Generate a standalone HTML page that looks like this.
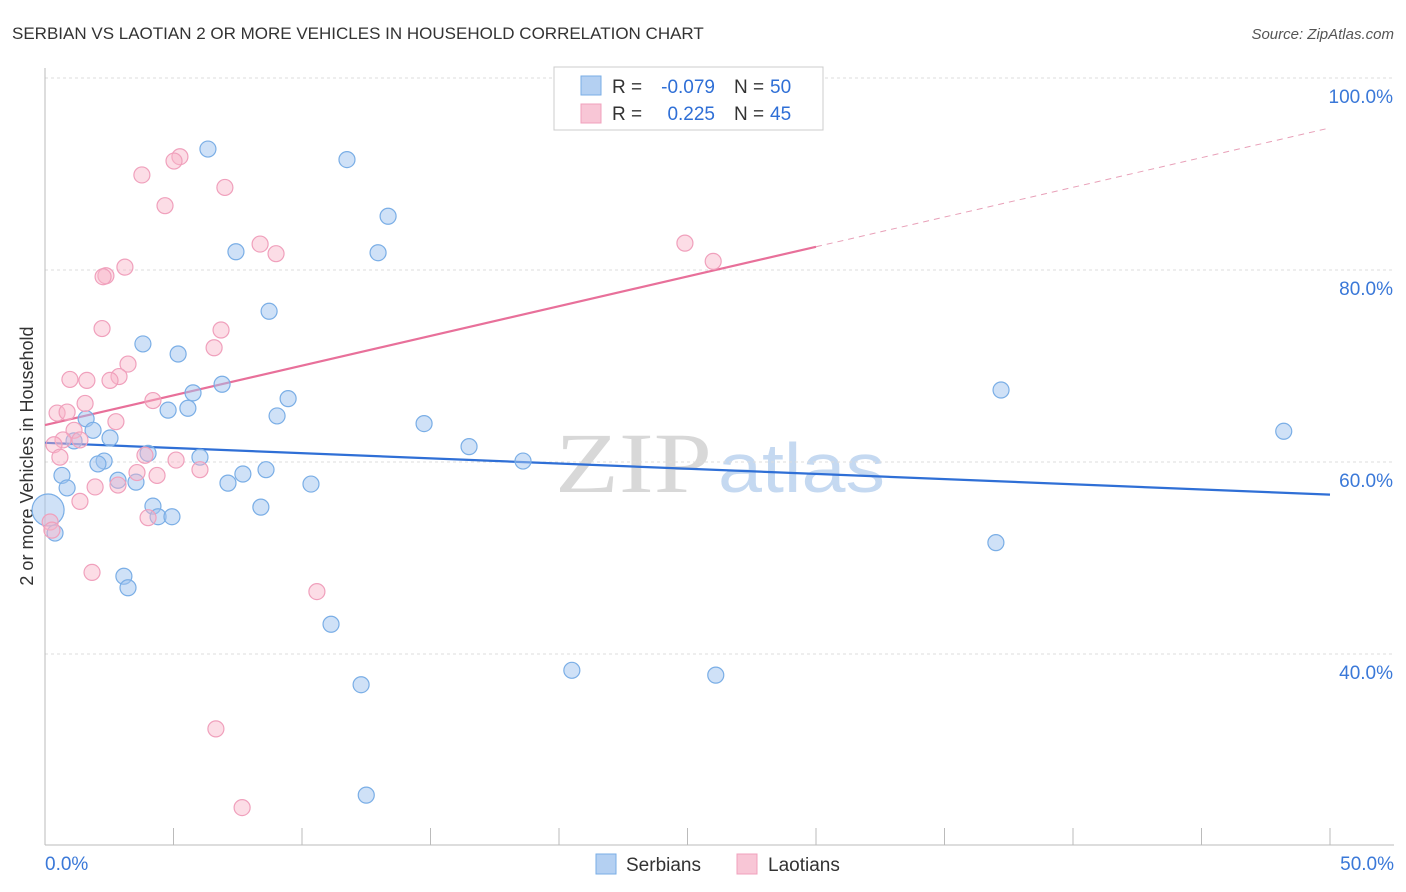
<!DOCTYPE html>
<html><head><meta charset="utf-8"><style>
body{margin:0;background:#fff;font-family:"Liberation Sans",sans-serif;}
svg{display:block}
</style></head><body>
<svg id="chart" width="1406" height="892">
<text x="12" y="39" font-size="17" fill="#333">SERBIAN VS LAOTIAN 2 OR MORE VEHICLES IN HOUSEHOLD CORRELATION CHART</text>
<text x="1394" y="39" font-size="15" fill="#555" font-style="italic" text-anchor="end">Source: ZipAtlas.com</text>
<text transform="translate(33,456) rotate(-90)" font-size="18" fill="#333" text-anchor="middle">2 or more Vehicles in Household</text>
<g id="watermark">
<text x="555" y="492" font-size="86" font-family="Liberation Serif,serif" fill="#d8d8d8" textLength="157" lengthAdjust="spacingAndGlyphs">ZIP</text>
<text x="718" y="492" font-size="70" fill="#c5d9f1" textLength="167" lengthAdjust="spacingAndGlyphs">atlas</text>
</g>
<g id="grid"></g><g id="axes"></g><g id="lines"></g><g id="points"></g>
<g>
<rect x="554" y="67" width="269" height="63" fill="#fff" stroke="#ccc"/>
<rect x="581" y="76" width="20" height="19" fill="#b4d0f2" stroke="#7aaee6"/>
<rect x="581" y="104" width="20" height="19" fill="#f8c6d6" stroke="#f0a0bc"/>
<text x="612" y="93" font-size="19" fill="#333">R =</text>
<text x="715" y="93" font-size="19" fill="#2f6fd6" text-anchor="end">-0.079</text>
<text x="734" y="93" font-size="19" fill="#333">N =</text>
<text x="770" y="93" font-size="19" fill="#2f6fd6">50</text>
<text x="612" y="120" font-size="19" fill="#333">R =</text>
<text x="715" y="120" font-size="19" fill="#2f6fd6" text-anchor="end">0.225</text>
<text x="734" y="120" font-size="19" fill="#333">N =</text>
<text x="770" y="120" font-size="19" fill="#2f6fd6">45</text>
</g>
<g>
<rect x="596" y="854" width="20" height="20" fill="#b4d0f2" stroke="#7aaee6"/>
<text x="626" y="871" font-size="19" fill="#333">Serbians</text>
<rect x="737" y="854" width="20" height="20" fill="#f8c6d6" stroke="#f0a0bc"/>
<text x="768" y="871" font-size="19" fill="#333">Laotians</text>
</g>
</svg>
<script>
const yTicks=[40,60,80,100];
const xTickCount=10;
const serbX=[6.34,11.75,13.35,7.43,12.96,8.72,3.81,5.18,6.89,5.76,9.46,4.79,5.56,9.03,14.75,1.60,1.87,1.13,2.53,4.01,16.5,6.03,2.30,2.06,18.6,0.66,2.84,3.54,7.70,8.60,7.12,10.35,0.86,4.20,8.40,4.40,4.94,0.39,3.07,3.23,11.13,12.3,20.5,26.1,12.5,37.2,37.0,48.2,0.12];
const serbY=[92.6,91.5,85.6,81.9,81.8,75.7,72.3,71.25,68.1,67.2,66.6,65.4,65.6,64.8,64.0,64.5,63.3,62.2,62.5,60.9,61.6,60.5,60.1,59.8,60.1,58.6,58.1,57.9,58.75,59.2,57.8,57.7,57.3,55.4,55.3,54.3,54.3,52.6,48.1,46.9,43.1,36.8,38.3,37.8,25.3,67.5,51.6,63.2,55.0];
const laoX=[5.25,5.02,3.77,7.0,4.67,8.37,8.99,3.11,2.37,2.26,2.22,6.85,6.58,3.23,2.88,2.53,0.97,1.63,4.2,1.56,0.47,0.86,2.76,1.13,0.70,1.36,0.35,0.58,5.10,3.89,6.03,3.58,4.36,1.95,2.84,1.36,4.01,0.2,0.27,1.83,10.58,6.65,7.67,24.9,26.0];
const laoY=[91.8,91.35,89.9,88.6,86.7,82.7,81.7,80.3,79.4,79.3,73.9,73.75,71.9,70.2,68.9,68.5,68.6,68.5,66.4,66.1,65.1,65.2,64.2,63.3,62.3,62.3,61.8,60.5,60.2,60.7,59.2,58.9,58.6,57.4,57.6,55.9,54.2,53.75,52.9,48.5,46.5,32.2,24.0,82.8,80.9];
const serbTrend=[62.0,56.6];
const laoTrend=[63.85,94.8];
const laoSolidEnd=30;
const NS="http://www.w3.org/2000/svg";
const X0=45,X1=1330;
function sx(v){return X0+(v/50)*(X1-X0);}
function sy(v){return 78+(100-v)*9.6;}
function mk(tag,attrs,parent){const e=document.createElementNS(NS,tag);for(const k in attrs)e.setAttribute(k,attrs[k]);document.getElementById(parent).appendChild(e);return e;}
mk('line',{x1:X0,y1:sy(100),x2:1394,y2:sy(100),stroke:'#ddd','stroke-dasharray':'3,3'},'grid');
yTicks.forEach(t=>{
 if(t<100){const g=mk('line',{x1:X0,y1:sy(t),x2:1394,y2:sy(t),stroke:'#ddd','stroke-dasharray':'3,3'},'grid');
 
 }
 const l=mk('text',{x:1393,y:sy(t)+25,'font-size':19,fill:'#3a78d8','text-anchor':'end'},'axes');
 l.textContent=t.toFixed(1)+'%';
 
 
});
mk('line',{x1:X0,y1:68,x2:X0,y2:845,stroke:'#bbb'},'axes');
mk('line',{x1:X0,y1:845,x2:1394,y2:845,stroke:'#bbb'},'axes');
for(let i=0;i<=xTickCount;i++){const x=sx(i*5);mk('line',{x1:x,y1:828,x2:x,y2:845,stroke:'#bbb'},'axes');}
const xl0=mk('text',{x:45,y:870,'font-size':19,fill:'#3a78d8'},'axes');xl0.textContent='0.0%';


const xl1=mk('text',{x:1394,y:870,'font-size':19,fill:'#3a78d8','text-anchor':'end'},'axes');xl1.textContent='50.0%';


serbX.forEach((v,i)=>{const c=mk('circle',{cx:sx(v),cy:sy(serbY[i]),r:i==serbX.length-1?16:8,fill:'rgba(160,196,240,0.5)',stroke:'#7aaee6','stroke-width':1.2},'points');
 
 });
laoX.forEach((v,i)=>{const c=mk('circle',{cx:sx(v),cy:sy(laoY[i]),r:8,fill:'rgba(248,180,200,0.45)',stroke:'#f0a0bc','stroke-width':1.2},'points');
 
 });
const bl=mk('line',{x1:sx(0),y1:sy(serbTrend[0]),x2:sx(50),y2:sy(serbTrend[1]),stroke:'#2f6fd6','stroke-width':2.2},'lines');


const ly=v=>laoTrend[0]+(laoTrend[1]-laoTrend[0])*v/50;
const pl=mk('line',{x1:sx(0),y1:sy(ly(0)),x2:sx(laoSolidEnd),y2:sy(ly(laoSolidEnd)),stroke:'#e8709a','stroke-width':2.2},'lines');


const pd=mk('line',{x1:sx(laoSolidEnd),y1:sy(ly(laoSolidEnd)),x2:sx(50),y2:sy(ly(50)),stroke:'#e8a0b8','stroke-width':1,'stroke-dasharray':'6,5'},'lines');


</script>
</body></html>
